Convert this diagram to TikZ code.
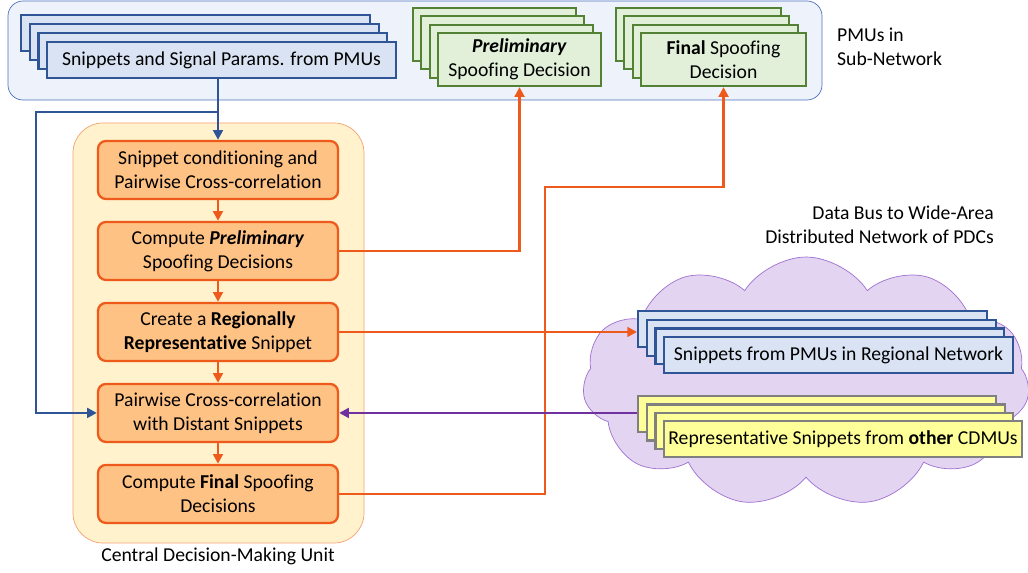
\documentclass[tikz,border=0pt]{standalone}
\usepackage{tikz, amsmath}
\usetikzlibrary{shapes, shapes.symbols, arrows.meta, positioning, calc}
\usepackage{xcolor, fontspec}
\setmainfont{Carlito}[Ligatures=NoCommon]

\definecolor{panelfill}{HTML}{EEF2FA}
\definecolor{panelline}{HTML}{4A72C0}
\definecolor{snipfill}{HTML}{DAE3F3}
\definecolor{snipline}{HTML}{2F5597}
\definecolor{decfill}{HTML}{E2F0D9}
\definecolor{decline}{HTML}{548235}
\definecolor{unitfill}{HTML}{FFF2CC}
\definecolor{unitline}{HTML}{F4A070}
\definecolor{stepfill}{HTML}{FFC285}
\definecolor{stepline}{HTML}{EE5A1C}
\definecolor{busfill}{HTML}{E3D4F2}
\definecolor{busline}{HTML}{A070CF}
\definecolor{otherfill}{HTML}{FFFF99}
\definecolor{otherline}{HTML}{808080}
\definecolor{distline}{HTML}{7030A0}

\begin{document}
\begin{tikzpicture}[x=0.02cm, y=-0.02cm, node distance=1.62cm,
    every node/.style={font=\fontsize{11.2}{13.6}\selectfont},
    snip/.style={rectangle, draw=snipline, line width=1.2pt, fill=snipfill, inner sep=0pt, minimum width=6.98cm, minimum height=0.72cm},
    dec/.style={rectangle, draw=decline, line width=1.2pt, fill=decfill, inner sep=0pt, minimum height=1.06cm, align=center},
    other/.style={rectangle, draw=otherline, line width=1.2pt, fill=otherfill, inner sep=0pt, minimum width=7.16cm, minimum height=0.72cm},
    stepbox/.style={rectangle, rounded corners=4.5pt, draw=stepline, line width=1.3pt, fill=stepfill, align=center, minimum width=4.8cm, minimum height=1.16cm, inner sep=0pt},
    tip/.style={-{Triangle[length=5.5pt,width=5.5pt]}},
    orangeline/.style={tip, draw=stepline, line width=1.4pt},
    blueline/.style={tip, draw=snipline, line width=1.4pt},
    purpleline/.style={tip, draw=distline, line width=1.4pt}]
    \useasboundingbox (0,0) rectangle (1028,573);

    % PMU panel and wide-area cloud in the back
    \draw[panelline, fill=panelfill, rounded corners=0.3cm] (8,1) rectangle (822,100);
    \node[cloud, cloud puffs=11, cloud puff arc=115, cloud ignores aspect, draw=busline, fill=busfill,
          minimum width=8.94cm, minimum height=5cm] (bus) at (806,382) {};
    \node[anchor=west, align=left] (pmulabel) at (831,47) {PMUs in\\Sub-Network};
    \node[anchor=east, align=right] (buslabel) at (1000,225) {Data Bus to Wide-Area\\Distributed Network of PDCs};

    % stacked PMU outputs
    \foreach \i in {0,1,2}
        \node[snip, anchor=north west] (pmu\i) at (20+\i*8.7, 14+\i*9) {};
    \node[snip, anchor=north west] (pmudata) at (46,41) {Snippets and Signal Params. from PMUs};

    \foreach \i in {0,1,2}
        \node[dec, minimum width=3.26cm, anchor=north west] (pre\i) at (412+\i*8.3, 7+\i*8.3) {};
    \node[dec, minimum width=3.26cm, anchor=north west] (prelim) at (437,32) {\textbf{\textit{Preliminary}}\\Spoofing Decision};

    \foreach \i in {0,1,2}
        \node[dec, minimum width=3.3cm, anchor=north west] (fin\i) at (615+\i*8.3, 7+\i*8.3) {};
    \node[dec, minimum width=3.3cm, anchor=north west] (final) at (640,32) {\textbf{Final} Spoofing\\Decision};

    % snippets on the data bus
    \foreach \i in {0,1,2}
        \node[snip, anchor=north west] (reg\i) at (637+\i*8.7, 310+\i*8.7) {};
    \node[snip, anchor=north west] (regsnip) at (663,336) {Snippets from PMUs in Regional Network};

    \foreach \i in {0,1,2}
        \node[other, anchor=north west] (oth\i) at (637+\i*8.7, 395+\i*8.5) {};
    \node[other, anchor=north west] (othsnip) at (663,420) {Representative Snippets from \textbf{other} CDMUs};

    % central decision-making unit
    \draw[unitline, fill=unitfill, rounded corners=0.6cm] (73,123) rectangle (364,543);
    \node (cdmulabel) at (218,556) {Central Decision-Making Unit};

    \node[stepbox] (cond) at (218,170) {Snippet conditioning and\\Pairwise Cross-correlation};
    \node[stepbox, below of=cond] (prelimstep) {Compute \textbf{\textit{Preliminary}}\\Spoofing Decisions};
    \node[stepbox, below of=prelimstep] (regional) {Create a \textbf{Regionally}\\\textbf{Representative} Snippet};
    \node[stepbox, below of=regional] (distant) {Pairwise Cross-correlation\\with Distant Snippets};
    \node[stepbox, below of=distant] (finalstep) {Compute \textbf{Final} Spoofing\\Decisions};

    \draw[orangeline] (cond) -- (prelimstep);
    \draw[orangeline] (prelimstep) -- (regional);
    \draw[orangeline] (regional) -- (distant);
    \draw[orangeline] (distant) -- (finalstep);

    % PMU data into the unit
    \coordinate (tap) at (218,112);
    \coordinate (rail) at (36,112);
    \draw[blueline] (cond.north |- pmudata.south) -- (cond.north);
    \draw[blueline] (tap) -- (rail) |- (distant.west);

    % decisions back to the PMUs
    \draw[orangeline] (prelimstep.east) -| (prelim.south);
    \coordinate (jog) at (545,187);
    \draw[orangeline] (finalstep.east) -| (jog) -| (final.south);

    % exchange over the data bus
    \draw[orangeline] (regional.east) -- (regional.east -| reg0.west);
    \draw[purpleline] (distant.east -| oth0.west) -- (distant.east);
\end{tikzpicture}
\end{document}
